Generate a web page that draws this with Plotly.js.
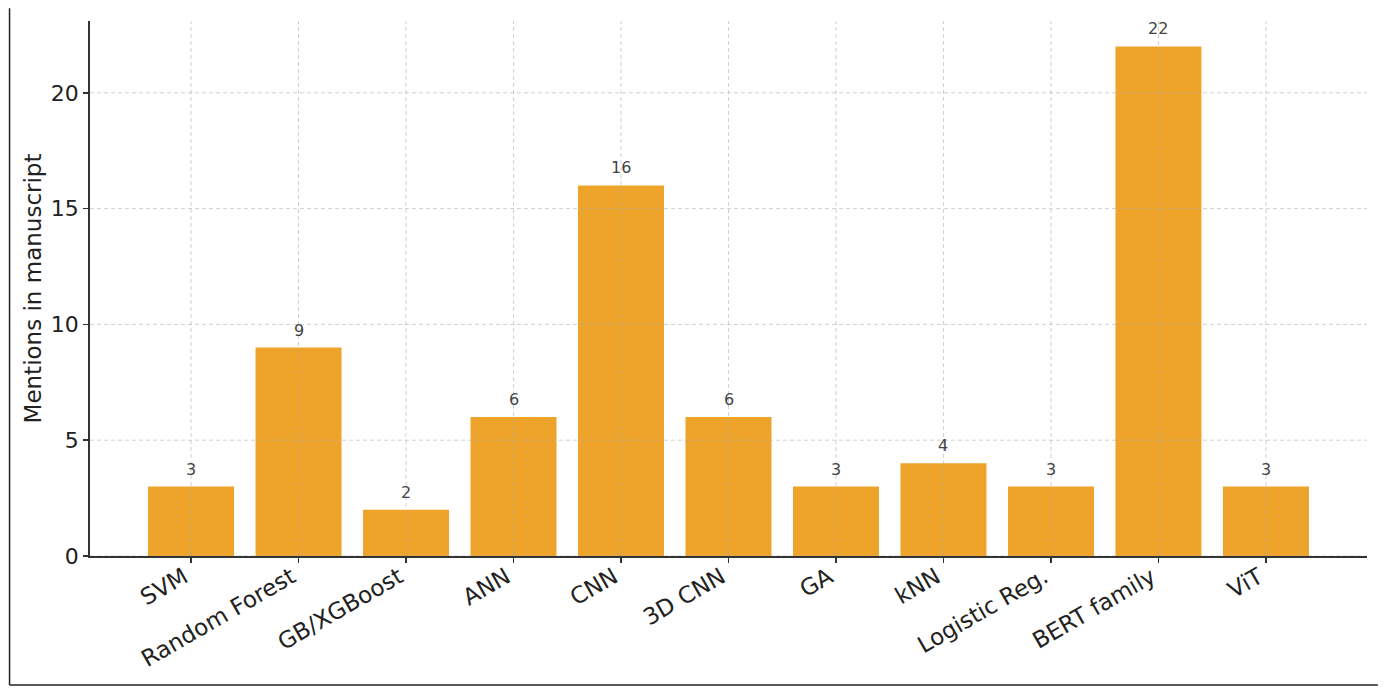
<!DOCTYPE html>
<html>
<head>
<meta charset="utf-8">
<script src="https://cdn.plot.ly/plotly-3.0.1.min.js"></script>
<style>html,body{margin:0;padding:0;background:#fff;}#chart{width:1386px;height:693px;}</style>
</head>
<body>
<div id="chart"></div>
<script>
const categories = ["SVM","Random Forest","GB/XGBoost","ANN","CNN","3D CNN","GA","kNN","Logistic Reg.","BERT family","ViT"];
const mentions = [3, 9, 2, 6, 16, 6, 3, 4, 3, 22, 3];
const yTicks = [0, 5, 10, 15, 20];
const yTitle = "Mentions in manuscript";

const font = "DejaVu Sans, Verdana, sans-serif";
const idx = categories.map((c, i) => i);

const trace = {
  type: "bar",
  x: idx,
  y: mentions,
  width: 0.8,
  marker: { color: "#EEA42B", line: { width: 0 } },
  hoverinfo: "skip"
};

const annotations = mentions.map((v, i) => ({
  x: i, y: v, xref: "x", yref: "y",
  text: String(v), showarrow: false,
  yanchor: "bottom", yshift: 6,
  font: { family: font, size: 16, color: "#444" }
}));

const shapes = [];
// grid lines drawn above bars, as in the reference
yTicks.forEach(t => shapes.push({
  type: "line", xref: "paper", yref: "y", x0: 0, x1: 1, y0: t, y1: t,
  layer: "above", line: { color: "rgba(170,170,170,0.55)", width: 1, dash: "4px,3px" }
}));
idx.forEach(i => shapes.push({
  type: "line", xref: "x", yref: "paper", x0: i, x1: i, y0: 0, y1: 1,
  layer: "above", line: { color: "rgba(170,170,170,0.55)", width: 1, dash: "4px,3px" }
}));
// outer frame (left and bottom edges)
shapes.push({ type: "line", xref: "paper", yref: "paper", x0: -0.063, x1: -0.063, y0: -0.241, y1: 1.024, line: { color: "#222", width: 1.5 } });
shapes.push({ type: "line", xref: "paper", yref: "paper", x0: -0.063, x1: 1.0085, y0: -0.241, y1: -0.241, line: { color: "#222", width: 1.5 } });

const layout = {
  width: 1386, height: 693,
  margin: { l: 90, r: 19, t: 21, b: 137, pad: 0 },
  paper_bgcolor: "#fff", plot_bgcolor: "#fff",
  showlegend: false,
  font: { family: font, color: "#222" },
  xaxis: {
    range: [-0.94, 10.94],
    tickmode: "array", tickvals: idx, ticktext: categories,
    tickangle: -30,
    tickfont: { family: font, size: 23, color: "#222" },
    ticks: "outside", ticklen: 5, tickwidth: 1.5, tickcolor: "#333",
    ticklabelstandoff: -8,
    ticklabelshift: -7,
    showgrid: false, zeroline: false,
    showline: true, linecolor: "#333", linewidth: 1.8,
    layer: "above traces"
  },
  yaxis: {
    range: [0, 23.1],
    tickmode: "array", tickvals: yTicks,
    tickfont: { family: font, size: 22, color: "#222" },
    ticks: "outside", ticklen: 5, tickwidth: 1.5, tickcolor: "#333",
    showgrid: false, zeroline: false,
    showline: true, linecolor: "#333", linewidth: 1.8,
    title: { text: yTitle, font: { family: font, size: 23, color: "#222" }, standoff: 3 },
    layer: "above traces"
  },
  annotations: annotations,
  shapes: shapes
};

Plotly.newPlot("chart", [trace], layout, { displayModeBar: false, staticPlot: true });
</script>
</body>
</html>
